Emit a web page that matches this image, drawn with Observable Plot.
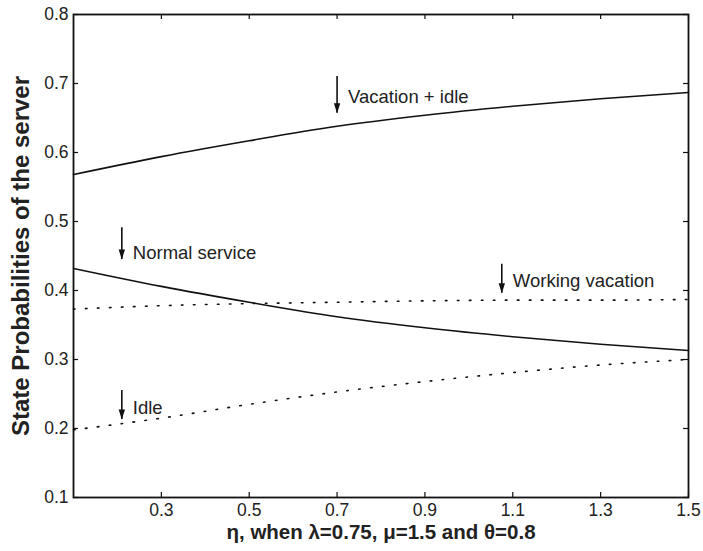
<!DOCTYPE html>
<html>
<head>
<meta charset="utf-8">
<script src="https://cdn.jsdelivr.net/npm/d3@7"></script>
<script src="https://cdn.jsdelivr.net/npm/@observablehq/plot@0.6"></script>
<style>
  html, body { margin: 0; padding: 0; background: #fff; }
</style>
</head>
<body>
<div id="chart"></div>
<script>
// eta values
const eta = [0.1, 0.3, 0.5, 0.7, 0.9, 1.1, 1.3, 1.5];
// series
const vacationIdle   = [0.568, 0.594, 0.617, 0.638, 0.654, 0.667, 0.678, 0.687];
const normalService  = [0.432, 0.406, 0.383, 0.362, 0.346, 0.333, 0.322, 0.313];
const workingVacation= [0.373, 0.378, 0.381, 0.383, 0.385, 0.386, 0.386, 0.387];
const idle           = [0.198, 0.215, 0.235, 0.253, 0.268, 0.281, 0.292, 0.300];

// ticks
const xTicks = [0.3, 0.5, 0.7, 0.9, 1.1, 1.3, 1.5];
const yTicks = [0.1, 0.2, 0.3, 0.4, 0.5, 0.6, 0.7, 0.8];

// annotations
const annLabels = ["Vacation + idle", "Normal service", "Working vacation", "Idle"];
const annX      = [0.70, 0.21, 1.075, 0.21];
const annTop    = [0.710, 0.491, 0.438, 0.255];
const annTip    = [0.657, 0.445, 0.396, 0.213];
const annTextY  = [0.681, 0.454, 0.413, 0.230];

const xLabel = "η, when λ=0.75, μ=1.5 and θ=0.8";
const yLabel = "State Probabilities of the server";

const solid = [
  ...eta.map((x, i) => ({x, y: vacationIdle[i], s: "vi"})),
  ...eta.map((x, i) => ({x, y: normalService[i], s: "ns"}))
];
const dotted = [
  ...eta.map((x, i) => ({x, y: workingVacation[i], s: "wv"})),
  ...eta.map((x, i) => ({x, y: idle[i], s: "id"}))
];
const ann = annLabels.map((t, i) => ({t, x: annX[i], top: annTop[i], tip: annTip[i], ty: annTextY[i]}));

const W = 703, H = 551;
const mL = 73, mR = 15, mT = 14, mB = 54;
const pw = W - mL - mR, ph = H - mT - mB;
const tl = 5;
const fmt = d3.format(".1f");

const headSymbol = {
  draw(ctx, size) {
    ctx.moveTo(0, 0);
    ctx.lineTo(-3.2, -10);
    ctx.lineTo(3.2, -10);
    ctx.closePath();
  }
};

const font = "'Liberation Sans', Arial, Helvetica, sans-serif";

const chart = Plot.plot({
  width: W,
  height: H,
  marginLeft: mL,
  marginRight: mR,
  marginTop: mT,
  marginBottom: mB,
  style: {fontFamily: font, fontSize: "17.5px", color: "#222", background: "#fff"},
  x: {domain: [0.1, 1.5], axis: null},
  y: {domain: [0.1, 0.8], axis: null},
  marks: [
    Plot.line(solid, {x: "x", y: "y", z: "s", stroke: "#111", strokeWidth: 1.6, curve: "monotone-x"}),
    Plot.line(dotted, {x: "x", y: "y", z: "s", stroke: "#111", strokeWidth: 1.6, strokeDasharray: "1.6 10.4", curve: "monotone-x"}),
    // inward ticks
    Plot.ruleX(xTicks, {x: d => d, insetTop: ph - tl, stroke: "#111", strokeWidth: 1.2}),
    Plot.ruleX(xTicks, {x: d => d, insetBottom: ph - tl, stroke: "#111", strokeWidth: 1.2}),
    Plot.ruleY(yTicks, {y: d => d, insetRight: pw - tl, stroke: "#111", strokeWidth: 1.2}),
    Plot.ruleY(yTicks, {y: d => d, insetLeft: pw - tl, stroke: "#111", strokeWidth: 1.2}),
    // tick labels
    Plot.text(xTicks, {x: d => d, frameAnchor: "bottom", dy: 18, text: d => fmt(d), textAnchor: "middle", fontSize: 17.5, fill: "#222"}),
    Plot.text(yTicks, {y: d => d, frameAnchor: "left", dx: -5, text: d => fmt(d), textAnchor: "end", fontSize: 17.5, fill: "#222"}),
    Plot.frame({stroke: "#111", strokeWidth: 1.8}),
    // annotations
    Plot.ruleX(ann, {x: "x", y1: "top", y2: "tip", stroke: "#111", strokeWidth: 1.6}),
    Plot.dot(ann, {x: "x", y: "tip", symbol: headSymbol, fill: "#111", stroke: "none"}),
    Plot.text(ann, {x: "x", y: "ty", text: "t", dx: 11, textAnchor: "start", fontSize: 18.5, fill: "#222"}),
    // axis titles
    Plot.text([xLabel], {frameAnchor: "bottom", text: d => d, dy: 41, textAnchor: "middle", fontSize: 20.5, fontWeight: "bold", fill: "#222"}),
    Plot.text([yLabel], {frameAnchor: "left", text: d => d, dx: -52, rotate: -90, textAnchor: "middle", fontSize: 24, fontWeight: "bold", fill: "#222"})
  ]
});
document.getElementById("chart").appendChild(chart);
</script>
</body>
</html>
